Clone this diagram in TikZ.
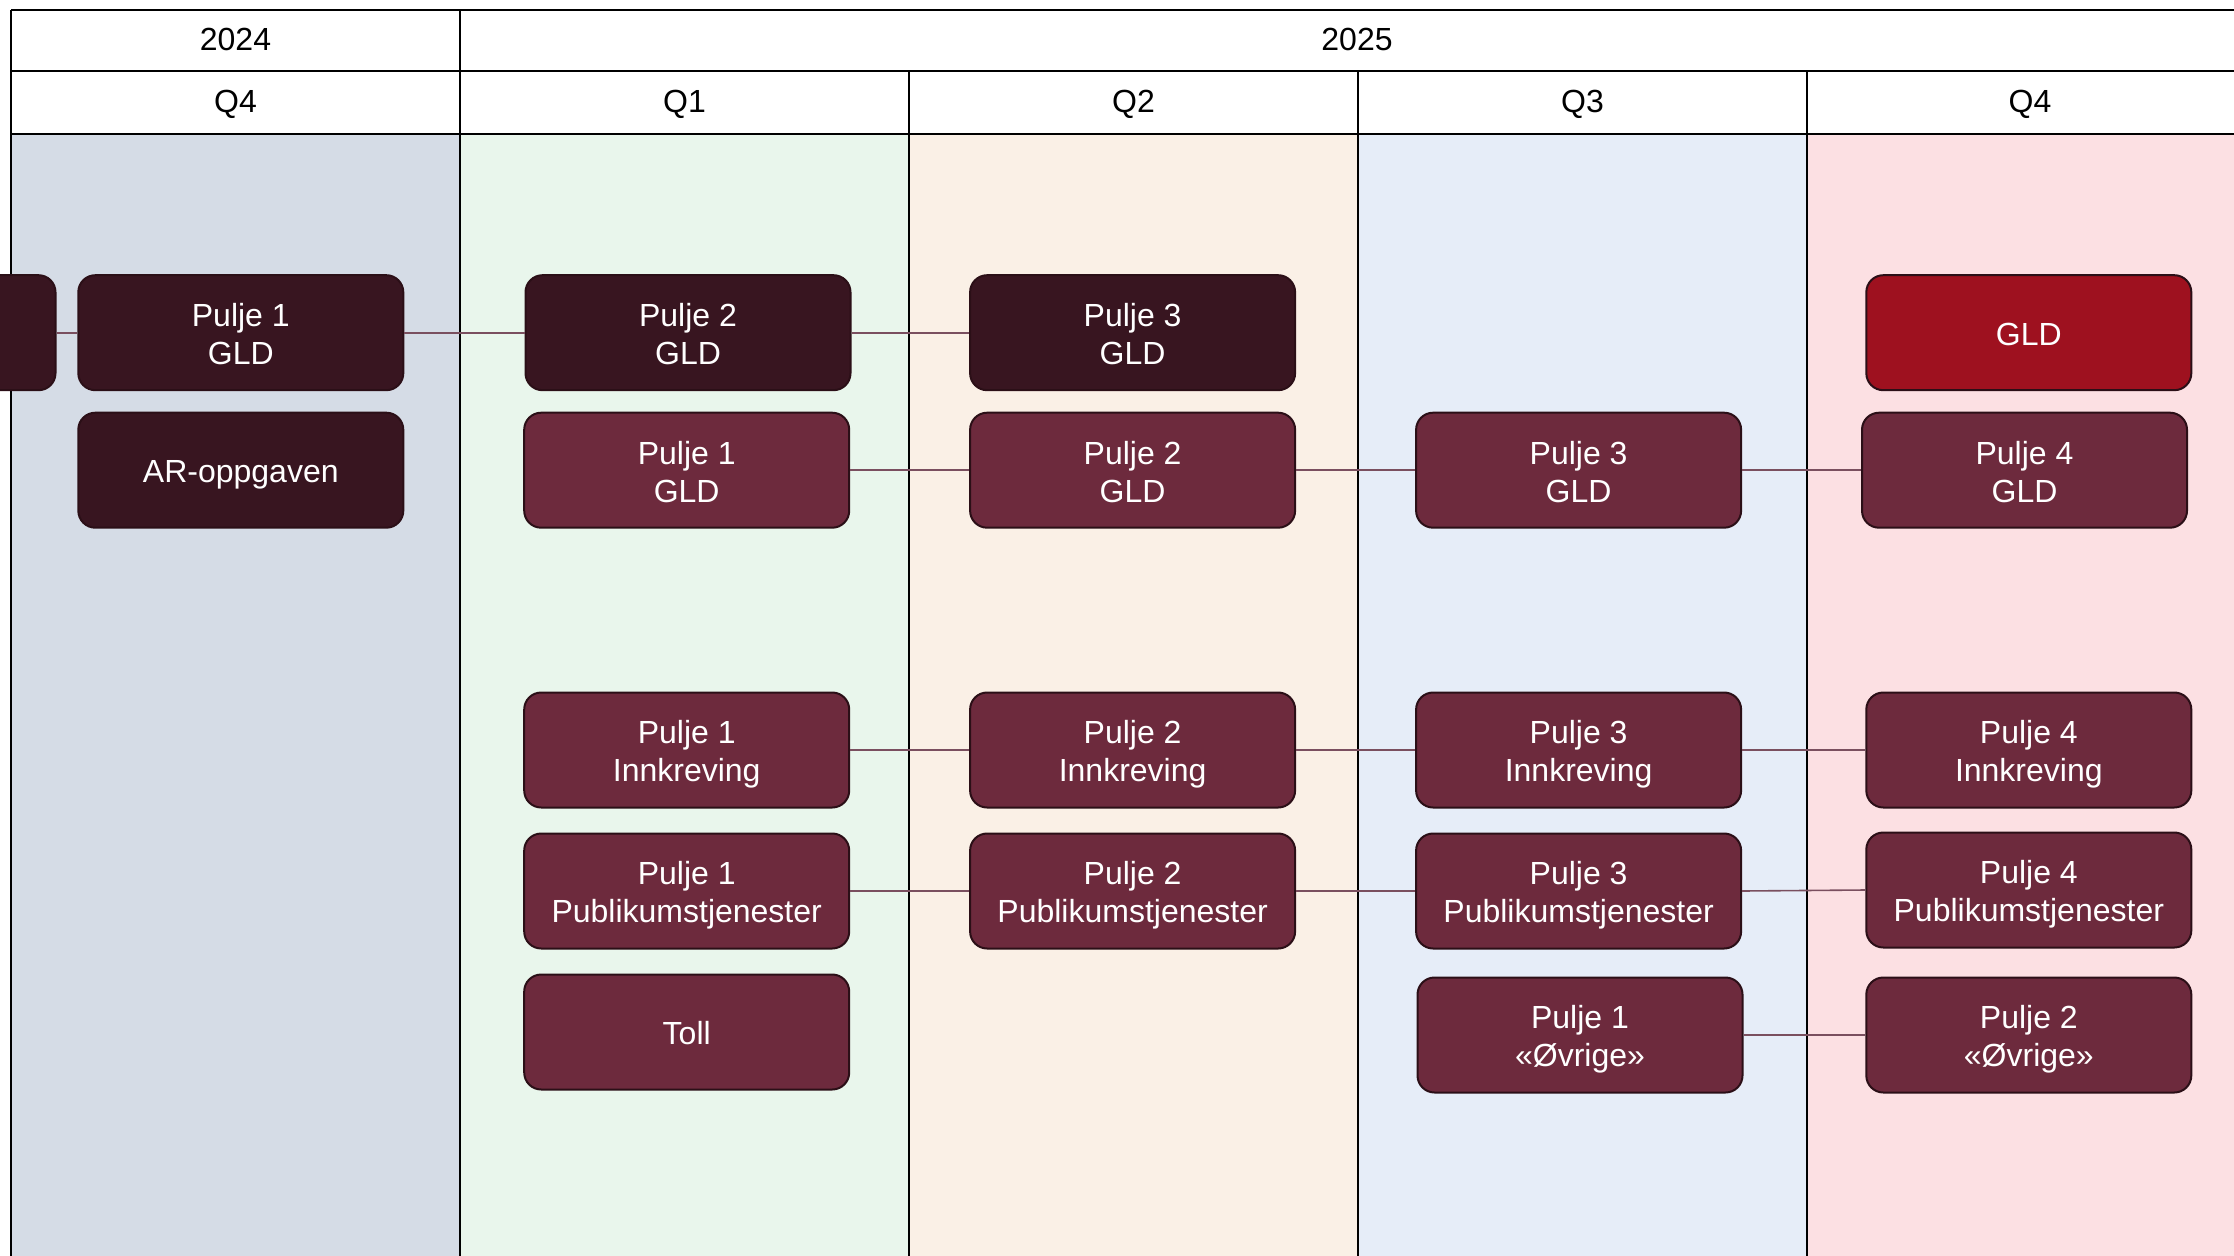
\documentclass[tikz,border=0pt]{standalone}
\usepackage{fontspec}
\setmainfont{Liberation Sans}
\definecolor{dk}{HTML}{381520}
\definecolor{md}{HTML}{6D2A3D}
\definecolor{rd}{HTML}{9E111F}
\definecolor{bd}{HTML}{2B0F17}
\definecolor{ln}{HTML}{7A4F5F}
\definecolor{cA}{HTML}{D5DCE6}
\definecolor{cB}{HTML}{E9F6EC}
\definecolor{cC}{HTML}{FAF0E6}
\definecolor{cD}{HTML}{E6EDF8}
\definecolor{cE}{HTML}{FCE0E3}
\tikzset{
  box/.style={rectangle, rounded corners=17pt, draw=bd, line width=2pt,
    minimum width=325pt, minimum height=115pt, inner sep=0pt,
    text=white, align=center, font=\fontsize{32}{38}\selectfont,
    execute at begin node={\rule{0pt}{31.7pt}},
    execute at end node={\rule[-6.7pt]{0pt}{6.7pt}}},
  two/.style={box,
    execute at begin node={\rule{0pt}{71pt}},
    execute at end node={\rule[-7.4pt]{0pt}{7.4pt}}},
  hdr/.style={font=\fontsize{32}{38}\selectfont, text=black},
  link/.style={draw=ln, line width=1.6pt},
}
\begin{document}
\begin{tikzpicture}[x=1pt,y=-1pt]
\useasboundingbox (0,0) rectangle (2234,1255);
\clip (0,0) rectangle (2234,1255);
\fill[white] (0,0) rectangle (2234,1255);
% column backgrounds
\fill[cA] (11,134) rectangle (460,1300);
\fill[cB] (460,134) rectangle (909,1300);
\fill[cC] (909,134) rectangle (1358,1300);
\fill[cD] (1358,134) rectangle (1807,1300);
\fill[cE] (1807,134) rectangle (2256,1300);
% body dividers
\foreach \x in {11,460,909,1358,1807} \draw[line width=1.8pt] (\x,134) -- (\x,1300);
% header grid
\draw[line width=2.4pt] (11,10) -- (2300,10);
\draw[line width=2.4pt] (11,71) -- (2300,71);
\draw[line width=2.8pt] (11,134) -- (2300,134);
\draw[line width=2.4pt] (11,10) -- (11,134);
\draw[line width=2.4pt] (460,10) -- (460,134);
\foreach \x in {909,1358,1807} \draw[line width=2.4pt] (\x,71) -- (\x,134);
% header labels
\node[hdr] (y24) at (235.5,39) {2024};
\node[hdr] (y25) at (1357,39) {2025};
\node[hdr] (q4a) at (235.5,104) {Q4};
\node[hdr] (q1) at (684.5,104) {Q1};
\node[hdr] (q2) at (1133.5,104) {Q2};
\node[hdr] (q3) at (1582.5,104) {Q3};
\node[hdr] (q4b) at (2030,104) {Q4};
% nodes
\node[box,fill=dk] (p0) at (-107,332.7) {};
\node[two,fill=dk] (a1) at (240.8,332.7) {Pulje 1\\GLD};
\node[box,fill=dk] (a2) at (240.8,470.2) {AR-oppgaven};
\node[two,fill=dk] (b1) at (688,332.7) {Pulje 2\\GLD};
\node[two,fill=md] (b2) at (686.7,470.2) {Pulje 1\\GLD};
\node[two,fill=md] (b3) at (686.7,750) {Pulje 1\\Innkreving};
\node[two,fill=md] (b4) at (686.7,891) {Pulje 1\\Publikumstjenester};
\node[box,fill=md] (b5) at (686.7,1032) {Toll};
\node[two,fill=dk] (c1) at (1132.6,332.7) {Pulje 3\\GLD};
\node[two,fill=md] (c2) at (1132.6,470.2) {Pulje 2\\GLD};
\node[two,fill=md] (c3) at (1132.6,750) {Pulje 2\\Innkreving};
\node[two,fill=md] (c4) at (1132.6,891) {Pulje 2\\Publikumstjenester};
\node[two,fill=md] (d2) at (1578.6,470.2) {Pulje 3\\GLD};
\node[two,fill=md] (d3) at (1578.6,750) {Pulje 3\\Innkreving};
\node[two,fill=md] (d4) at (1578.6,891) {Pulje 3\\Publikumstjenester};
\node[two,fill=md] (d5) at (1580,1035) {Pulje 1\\«Øvrige»};
\node[box,fill=rd] (e1) at (2028.8,332.7) {GLD};
\node[two,fill=md] (e2) at (2024.5,470.2) {Pulje 4\\GLD};
\node[two,fill=md] (e3) at (2028.8,750) {Pulje 4\\Innkreving};
\node[two,fill=md] (e4) at (2028.8,890) {Pulje 4\\Publikumstjenester};
\node[two,fill=md] (e5) at (2028.8,1035) {Pulje 2\\«Øvrige»};
% connectors
\draw[link] (p0.east) -- (a1.west);
\draw[link] (a1.east) -- (b1.west);
\draw[link] (b1.east) -- (c1.west);
\draw[link] (b2.east) -- (c2.west);
\draw[link] (c2.east) -- (d2.west);
\draw[link] (d2.east) -- (e2.west);
\draw[link] (b3.east) -- (c3.west);
\draw[link] (c3.east) -- (d3.west);
\draw[link] (d3.east) -- (e3.west);
\draw[link] (b4.east) -- (c4.west);
\draw[link] (c4.east) -- (d4.west);
\draw[link] (d4.east) -- (e4.west);
\draw[link] (d5.east) -- (e5.west);
\end{tikzpicture}
\end{document}
